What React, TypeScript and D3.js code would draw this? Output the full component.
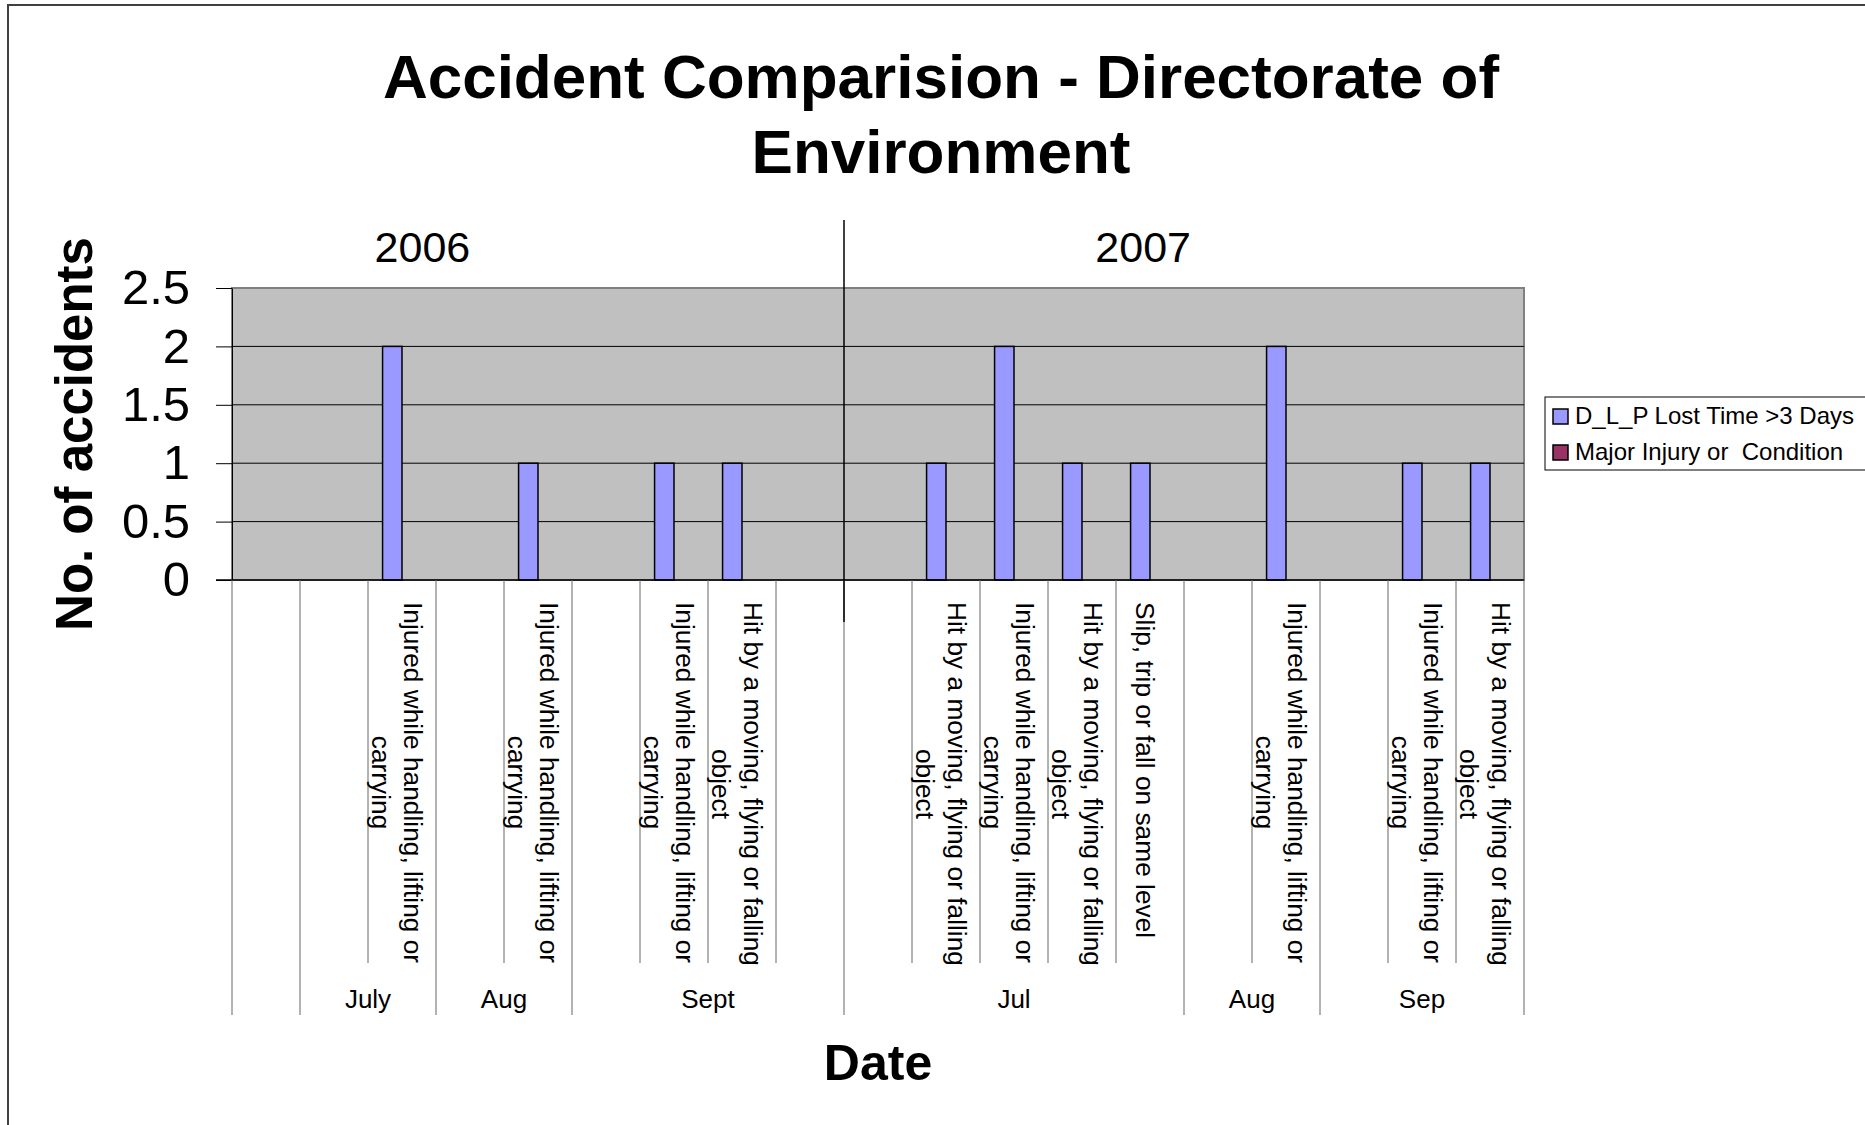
import React, { useRef, useEffect } from 'react';
import * as d3 from 'd3';

const INJ = 'Injured while handling, lifting or carrying';
const HIT = 'Hit by a moving, flying or falling object';
const SLIP = 'Slip, trip or fall on same level';

// one entry per category slot on the x axis
const yearNames = ['2006', '2007'];
const yearOf = [0, 0, 0, 0, 0, 0, 0, 0, 0, 1, 1, 1, 1, 1, 1, 1, 1, 1, 1];
const months = ['', 'July', 'July', 'Aug', 'Aug', 'Sept', 'Sept', 'Sept', 'Sept',
  'Jul', 'Jul', 'Jul', 'Jul', 'Jul', 'Aug', 'Aug', 'Sep', 'Sep', 'Sep'];
const causes = ['', '', INJ, '', INJ, '', INJ, HIT, '',
  '', HIT, INJ, HIT, SLIP, '', INJ, '', INJ, HIT];
const lostTime = [null, null, 2, null, 1, null, 1, 1, null,
  null, 1, 2, 1, 1, null, 2, null, 1, 1];
const majorInjury = [null, null, null, null, null, null, null, null, null,
  null, null, null, null, null, null, null, null, null, null];
const yTicks = [0, 0.5, 1, 1.5, 2, 2.5];
const seriesNames = ['D_L_P Lost Time >3 Days', 'Major Injury or  Condition'];
const seriesColors = ['#9999FF', '#993366'];

const FONT = '"Liberation Sans", Arial, sans-serif';

export default function App() {
  const ref = useRef<SVGSVGElement>(null);

  useEffect(() => {
    const svg = d3.select(ref.current);
    svg.selectAll('*').remove();

    const W = 1865, H = 1125;
    const margin = { top: 288, left: 232, right: 341, bottom: 545 };
    const x0 = margin.left, x1 = W - margin.right;
    const yTop = margin.top, yBot = H - margin.bottom;

    // chart frame
    svg.append('rect').attr('x', 8).attr('y', 5).attr('width', W + 20).attr('height', H + 20)
      .attr('fill', '#fff').attr('stroke', '#404040').attr('stroke-width', 2);

    // title
    const title = svg.append('text').attr('text-anchor', 'middle').attr('font-weight', 'bold')
      .attr('font-size', 62).attr('font-family', FONT);
    title.append('tspan').attr('x', 941).attr('y', 98).text('Accident Comparision - Directorate of');
    title.append('tspan').attr('x', 941).attr('y', 173).text('Environment');

    const x = d3.scaleBand<number>().domain(d3.range(causes.length)).range([x0, x1]).padding(0);
    const xs = d3.scaleBand<number>().domain([0, 1]).range([0, x.bandwidth()])
      .paddingInner(0).paddingOuter(0.75);
    const y = d3.scaleLinear().domain([0, 2.5]).range([yBot, yTop]);

    // plot area
    svg.append('rect').attr('x', x0).attr('y', yTop).attr('width', x1 - x0).attr('height', yBot - yTop)
      .attr('fill', '#C0C0C0').attr('stroke', '#808080').attr('stroke-width', 2);

    svg.append('g').selectAll('line').data(yTicks.filter(t => t > 0 && t < 2.5)).join('line')
      .attr('x1', x0).attr('x2', x1).attr('y1', d => y(d)).attr('y2', d => y(d))
      .attr('stroke', '#000').attr('stroke-width', 1);

    // y axis
    const yAxis = svg.append('g').attr('transform', `translate(${x0},0)`)
      .call(d3.axisLeft(y).tickValues(yTicks).tickFormat(d => String(d)).tickSize(16).tickSizeOuter(0).tickPadding(26));
    yAxis.select('.domain').attr('stroke', '#000');
    yAxis.selectAll('.tick line').attr('stroke', '#000');
    yAxis.selectAll('.tick text').attr('font-size', 49).attr('font-family', FONT).attr('fill', '#000');

    svg.append('text')
      .attr('transform', `translate(92,434) rotate(-90)`)
      .attr('text-anchor', 'middle').attr('font-weight', 'bold').attr('font-size', 51)
      .attr('font-family', FONT).text('No. of accidents');

    // bars
    [lostTime, majorInjury].forEach((vals, s) => {
      svg.append('g').selectAll('rect')
        .data(vals.map((v, i) => ({ v, i })).filter(d => d.v != null))
        .join('rect')
        .attr('x', d => (x(d.i) as number) + (xs(s) as number))
        .attr('y', d => y(d.v as number))
        .attr('width', xs.bandwidth())
        .attr('height', d => y(0) - y(d.v as number))
        .attr('fill', seriesColors[s]).attr('stroke', '#000').attr('stroke-width', 1.5);
    });

    // x axis line
    svg.append('line').attr('x1', x0 - 16).attr('x2', x1).attr('y1', yBot).attr('y2', yBot)
      .attr('stroke', '#000').attr('stroke-width', 1.5);

    // month groups
    const groups: { label: string; start: number; end: number }[] = [];
    months.forEach((m, i) => {
      const g = groups[groups.length - 1];
      if (g && g.label === m && yearOf[g.start] === yearOf[i]) g.end = i;
      else groups.push({ label: m, start: i, end: i });
    });
    const groupEdges = new Set<number>();
    groups.forEach(g => { groupEdges.add(g.start); groupEdges.add(g.end + 1); });

    const sep = svg.append('g').attr('stroke', '#666').attr('stroke-width', 1);
    d3.range(causes.length + 1).forEach(i => {
      const xx = i < causes.length ? (x(i) as number) : x1;
      sep.append('line').attr('x1', xx).attr('x2', xx).attr('y1', yBot)
        .attr('y2', groupEdges.has(i) ? 1015 : 963);
    });

    svg.append('g').selectAll('text').data(groups).join('text')
      .attr('x', g => ((x(g.start) as number) + (x(g.end) as number) + x.bandwidth()) / 2)
      .attr('y', 1008).attr('text-anchor', 'middle').attr('font-size', 26)
      .attr('font-family', FONT).text(g => g.label);

    // year divider and labels
    const yearStart = yearOf.indexOf(1);
    const xDiv = x(yearStart) as number;
    svg.append('line').attr('x1', xDiv).attr('x2', xDiv).attr('y1', 220).attr('y2', 622)
      .attr('stroke', '#000').attr('stroke-width', 1.5);
    const yearX = [x0 + 2.8 * x.bandwidth(), xDiv + 4.4 * x.bandwidth()];
    yearNames.forEach((yn, k) => {
      svg.append('text').attr('x', yearX[k]).attr('y', 262).attr('text-anchor', 'middle')
        .attr('font-size', 43).attr('font-family', FONT).text(yn);
    });

    // rotated, wrapped cause labels
    const lab = svg.append('g').attr('font-size', 26.3).attr('font-family', FONT);
    causes.forEach((c, i) => {
      if (!c) return;
      const cx = (x(i) as number) + x.bandwidth() / 2;
      const t = lab.append('text').attr('text-anchor', 'middle').attr('dominant-baseline', 'central');
      const probe = t.append('tspan');
      const lines: string[] = [];
      let cur: string[] = [];
      c.split(' ').forEach(w => {
        probe.text([...cur, w].join(' '));
        if ((probe.node() as SVGTSpanElement).getComputedTextLength() > 385 && cur.length) {
          lines.push(cur.join(' '));
          cur = [w];
        } else cur.push(w);
      });
      lines.push(cur.join(' '));
      probe.remove();
      const n = lines.length;
      const spans = lines.map((l, k) => t.append('tspan').attr('x', 0)
        .attr('y', 5 - ((n - 1) / 2 - k) * 32).text(l));
      const maxLen = d3.max(spans, s => (s.node() as SVGTSpanElement).getComputedTextLength()) || 0;
      t.attr('transform', `translate(${cx},${602 + maxLen / 2}) rotate(90)`);
    });

    svg.append('text').attr('x', 878).attr('y', 1080).attr('text-anchor', 'middle')
      .attr('font-weight', 'bold').attr('font-size', 50).attr('font-family', FONT).text('Date');

    // legend
    const leg = svg.append('g').attr('transform', 'translate(1545,397)');
    leg.append('rect').attr('width', 340).attr('height', 73).attr('fill', '#fff')
      .attr('stroke', '#000').attr('stroke-width', 1);
    seriesNames.forEach((nm, k) => {
      leg.append('rect').attr('x', 8).attr('y', 12 + k * 36).attr('width', 15).attr('height', 15)
        .attr('fill', seriesColors[k]).attr('stroke', '#000').attr('stroke-width', 1.5);
      leg.append('text').attr('x', 30).attr('y', 27 + k * 36).attr('font-size', 24)
        .attr('font-family', FONT).style('white-space', 'pre').text(nm);
    });
  }, []);

  return (
    <div style={{ position: 'fixed', left: 0, top: 0, width: 1865, height: 1125, overflow: 'hidden', background: '#fff' }}>
      <svg ref={ref} width={1865} height={1125} />
    </div>
  );
}
